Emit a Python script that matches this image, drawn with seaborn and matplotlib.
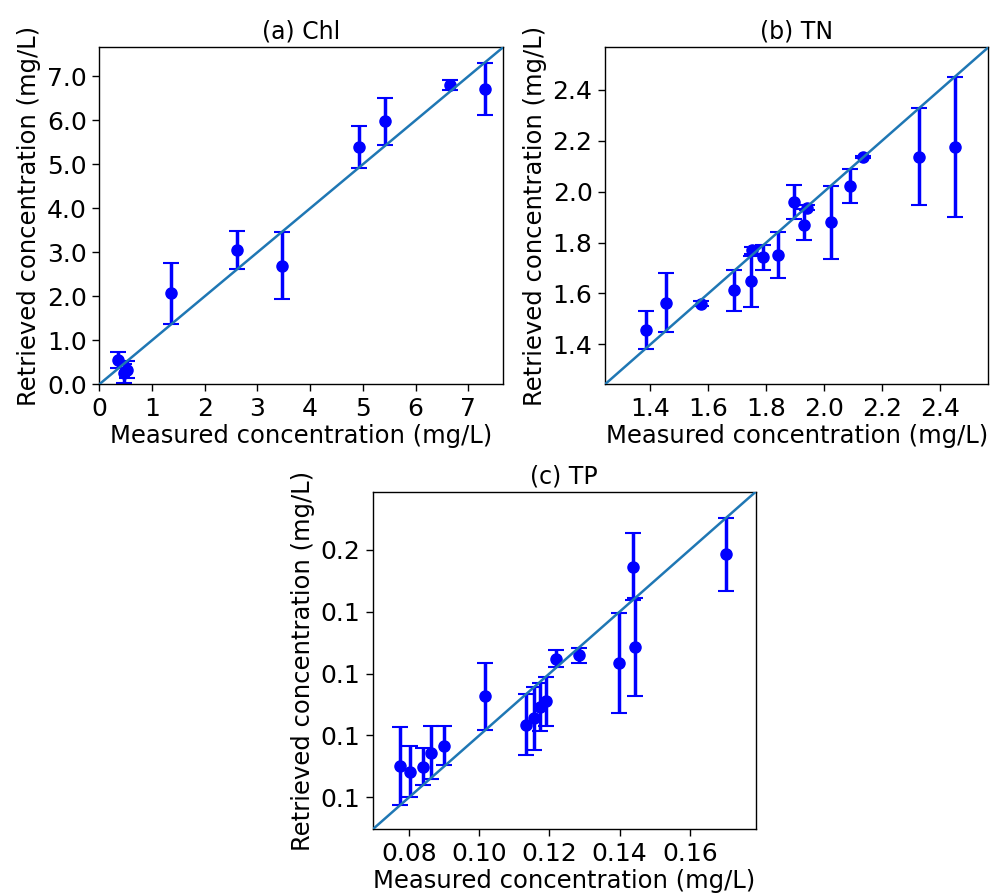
import numpy as np
import matplotlib
matplotlib.use("Agg")
import matplotlib.pyplot as plt
import seaborn as sns
from matplotlib.ticker import FormatStrFormatter

sns.set_style("ticks", {"axes.edgecolor": "black", "xtick.color": "black", "ytick.color": "black",
                        "text.color": "black", "axes.labelcolor": "black"})
plt.rcParams["font.family"] = ["DejaVu Sans"]

# (a) Chl
chl_meas = [0.35, 0.47, 0.52, 1.36, 2.62, 3.46, 4.92, 5.43, 6.66, 7.31]
chl_retr = [0.55, 0.25, 0.33, 2.07, 3.05, 2.70, 5.40, 5.98, 6.80, 6.71]
chl_err = [0.18, 0.22, 0.19, 0.69, 0.43, 0.77, 0.48, 0.53, 0.12, 0.60]
chl_ticks = [0, 1, 2, 3, 4, 5, 6, 7]

# (b) TN
tn_meas = [1.383, 1.452, 1.573, 1.690, 1.746, 1.751, 1.790, 1.841, 1.895, 1.932,
           1.941, 2.024, 2.089, 2.135, 2.327, 2.451]
tn_retr = [1.455, 1.564, 1.560, 1.612, 1.648, 1.769, 1.742, 1.751, 1.959, 1.870,
           1.937, 1.879, 2.022, 2.136, 2.137, 2.175]
tn_err = [0.075, 0.116, 0.010, 0.080, 0.100, 0.015, 0.050, 0.090, 0.066, 0.061,
          0.010, 0.145, 0.067, 0.004, 0.190, 0.275]
tn_ticks = [1.4, 1.6, 1.8, 2.0, 2.2, 2.4]

# (c) TP
tp_meas = [0.0775, 0.0802, 0.0840, 0.0862, 0.0901, 0.1017, 0.1133, 0.1155, 0.1172,
           0.1189, 0.1220, 0.1283, 0.1399, 0.1437, 0.1444, 0.1702]
tp_retr = [0.0902, 0.0883, 0.0899, 0.0945, 0.0967, 0.1126, 0.1035, 0.1055, 0.1093,
           0.1110, 0.1248, 0.1259, 0.1235, 0.1545, 0.1286, 0.1585]
tp_err = [0.0127, 0.0082, 0.0059, 0.0086, 0.0063, 0.0108, 0.0099, 0.0102, 0.0078,
          0.0078, 0.0028, 0.0024, 0.0162, 0.0108, 0.0158, 0.0118]
tp_ticks = [0.08, 0.10, 0.12, 0.14, 0.16]

panels = [
    ("(a) Chl", chl_meas, chl_retr, chl_err, (0.0, 7.66), chl_ticks, "%d", "%.1f"),
    ("(b) TN", tn_meas, tn_retr, tn_err, (1.243, 2.567), tn_ticks, "%.1f", "%.1f"),
    ("(c) TP", tp_meas, tp_retr, tp_err, (0.0697, 0.1787), tp_ticks, "%.2f", "%.1f"),
]
positions = [
    [0.1002, 0.5711, 0.4074, 0.3761],
    [0.6105, 0.5711, 0.3868, 0.3761],
    [0.3761, 0.0744, 0.3865, 0.3768],
]

fig = plt.figure(figsize=(9.91, 8.96), dpi=100)

for (title, meas, retr, err, lim, ticks, xfmt, yfmt), pos in zip(panels, positions):
    ax = fig.add_axes(pos)
    ax.errorbar(meas, retr, yerr=err, fmt="o", color="blue", ecolor="blue",
                markersize=8, elinewidth=2.5, capsize=6, capthick=1.5, zorder=2)
    sns.lineplot(x=list(lim), y=list(lim), ax=ax, color="#1f77b4", linewidth=1.8, zorder=3)
    ax.set_xlim(lim)
    ax.set_ylim(lim)
    ax.set_xticks(ticks)
    ax.set_yticks(ticks)
    ax.xaxis.set_major_formatter(FormatStrFormatter(xfmt))
    ax.yaxis.set_major_formatter(FormatStrFormatter(yfmt))
    ax.set_title(title, fontsize=17)
    ax.set_xlabel("Measured concentration (mg/L)", fontsize=17.5, labelpad=2)
    ax.set_ylabel("Retrieved concentration (mg/L)", fontsize=17.5, labelpad=4)
    ax.tick_params(labelsize=18, direction="out", length=5, width=1, pad=4)
    for s in ax.spines.values():
        s.set_linewidth(1.0)
        s.set_visible(True)

fig.savefig("out.png", dpi=100)
